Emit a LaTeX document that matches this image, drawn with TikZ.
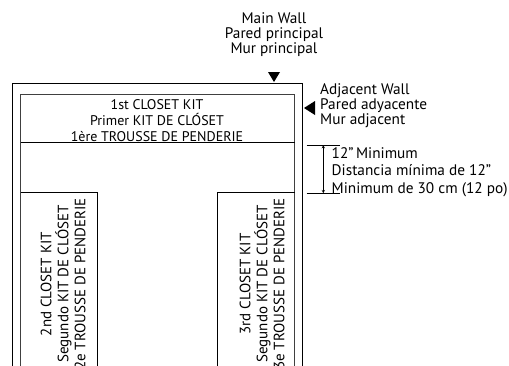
\documentclass[tikz,border=0pt]{standalone}
\usepackage{fontspec}
\setmainfont{PT Sans}
\usetikzlibrary{positioning}

\begin{document}
\begin{tikzpicture}[x=1pt,y=-1pt,
  walltext/.style = {align=center, inner sep=0pt, font=\fontsize{15.3}{15}\selectfont},
  kittext/.style = {align=center, font=\fontsize{14}{16}\selectfont},
  sidetext/.style = {align=center, font=\fontsize{15}{17}\selectfont, rotate=90}]
\useasboundingbox (0,0) rectangle (509,365);
% walls
\draw[line width=0.8pt] (12,366) -- (12,83.5) -- (302,83.5) -- (302,366) ;
\draw[line width=0.8pt, black!75] (20.5,366) -- (20.5,94) -- (294.5,94) -- (294.5,366) ;
% kits
\draw[line width=0.8pt] (20.5,142.5) -- (294.5,142.5) ;
\draw[line width=0.8pt] (20.5,192.5) -- (97.5,192.5) -- (97.5,366) ;
\draw[line width=0.8pt] (217.5,366) -- (217.5,192.5) -- (294.5,192.5) ;
\node[kittext] (kit1) at (157,121) {1st CLOSET KIT\\Primer KIT DE CLÓSET\\1ère TROUSSE DE PENDERIE};
\node[sidetext] (kit2) at (63,284) {2nd CLOSET KIT\\Segundo KIT DE CLÓSET\\2e TROUSSE DE PENDERIE};
\node[sidetext] (kit3) at (262,284) {3rd CLOSET KIT\\Segundo KIT DE CLÓSET\\3e TROUSSE DE PENDERIE};
% main wall
\node[walltext] (main) at (274,34.5) {Main Wall\\Pared principal\\Mur principal};
\fill (268,72) -- (280,72) -- (274,82) -- cycle ;
% adjacent wall
\node[walltext, align=left, anchor=west] (adj) at (320,105.5) {Adjacent Wall\\Pared adyacente\\Mur adjacent};
\fill (315,101) -- (315,115) -- (304,108) -- cycle ;
% 12 inch gap
\coordinate (gaptop) at (323.3,145) ;
\coordinate (gapbot) at (323.3,193.3) ;
\draw[line width=0.6pt] (306.7,145) -- (340,145) ;
\draw[line width=0.6pt] (306.7,193.3) -- (340,193.3) ;
\draw[line width=0.5pt, <->, >=stealth] (gaptop) -- (gapbot) ;
\node[anchor=west, align=left, inner sep=0pt, font=\fontsize{15.3}{17.5}\selectfont] (gap) at (331.5,172) {12”\,Minimum\\Distancia mínima de 12”\\Minimum de 30 cm (12 po)};
\end{tikzpicture}
\end{document}
